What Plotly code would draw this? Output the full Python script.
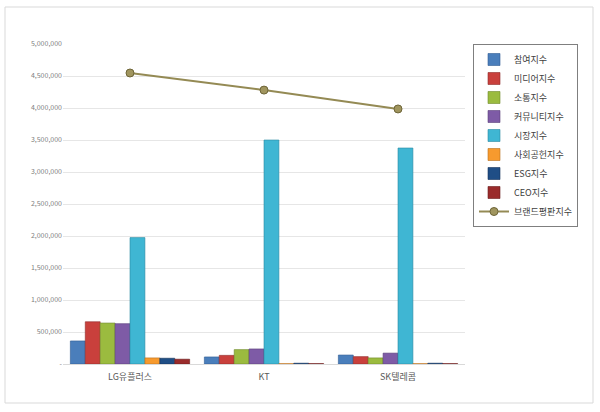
import plotly.graph_objects as go

categories = ["LG유플러스", "KT", "SK텔레콤"]
series_names = ["참여지수", "미디어지수", "소통지수", "커뮤니티지수", "시장지수", "사회공헌지수", "ESG지수", "CEO지수"]
participation = [360000, 110000, 140000]
media = [660000, 135000, 115000]
communication = [640000, 225000, 95000]
community = [630000, 235000, 170000]
market = [1975000, 3500000, 3375000]
social = [95000, 5000, 5000]
esg = [90000, 12000, 12000]
ceo = [75000, 6000, 6000]
brand_name = "브랜드평판지수"
brand = [4547000, 4280000, 3985000]

tick_vals = [0, 500000, 1000000, 1500000, 2000000, 2500000, 3000000, 3500000, 4000000, 4500000, 5000000]
tick_text = ["-", "500,000", "1,000,000", "1,500,000", "2,000,000", "2,500,000", "3,000,000", "3,500,000", "4,000,000", "4,500,000", "5,000,000"]

bar_values = [participation, media, communication, community, market, social, esg, ceo]
bar_colors = ["#4A7EBB", "#C9403C", "#9BBB3F", "#7E5BA6", "#3FB6D3", "#F79A2E", "#1F4E86", "#9A2B2B"]
line_colors = ["#2F5C94", "#8E2A28", "#6F8A2A", "#5A3F7A", "#2A8AA3", "#B86E1C", "#14325A", "#6A1C1C"]

FONT = "Noto Sans CJK KR"

fig = go.Figure()
for name, vals, c, lc in zip(series_names, bar_values, bar_colors, line_colors):
    fig.add_trace(go.Bar(x=categories, y=vals, name=name,
                         marker=dict(color=c, line=dict(color=lc, width=0.6))))

fig.add_trace(go.Scatter(x=categories, y=brand, name=brand_name, mode="lines+markers",
                         line=dict(color="#948A54", width=2),
                         marker=dict(size=8, color="#A0955E", line=dict(color="#6E6538", width=1))))

L, R, T, B = 63, 135, 44, 48
W, H = 600, 412
pw, ph = W - L - R, H - T - B

def px_x(p):
    return (p - L) / pw

def px_y(p):
    return (H - B - p) / ph

fig.update_layout(
    width=W, height=H,
    margin=dict(l=L, r=R, t=T, b=B),
    paper_bgcolor="white", plot_bgcolor="white",
    barmode="group", bargap=0.11, bargroupgap=0,
    font=dict(family=FONT, size=9, color="#595959"),
    showlegend=True,
    legend=dict(x=px_x(473), y=1.0, xanchor="left", yanchor="top",
                bordercolor="#7F7F7F", borderwidth=1, bgcolor="white",
                font=dict(family=FONT, size=9, color="#404040"),
                tracegroupgap=0, itemwidth=30),
    xaxis=dict(showgrid=False, showline=True, linecolor="#D9D9D9", linewidth=1,
               automargin=False, ticks="", ticklabelstandoff=4,
               tickfont=dict(size=9, color="#595959")),
    yaxis=dict(range=[0, 5000000], tickvals=tick_vals, ticktext=tick_text,
               automargin=False,
               showgrid=True, gridcolor="#E6E6E6", gridwidth=1, zeroline=False,
               showline=False, ticks="", tickfont=dict(size=7, color="#808080")),
    shapes=[dict(type="rect", xref="paper", yref="paper",
                 x0=px_x(5), x1=px_x(593), y0=px_y(403), y1=px_y(7),
                 line=dict(color="#D9D9D9", width=1), fillcolor="rgba(0,0,0,0)", layer="below")],
)

fig.write_html("out.html", config={"displayModeBar": False},
               post_script="document.body.style.margin='0';")
